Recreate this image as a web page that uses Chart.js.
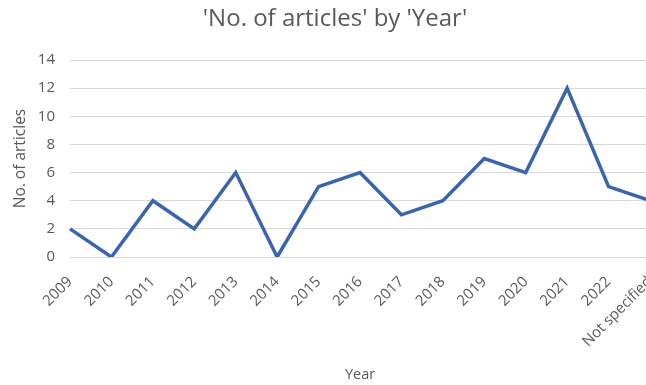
<!DOCTYPE html>
<html>
<head>
<meta charset="utf-8">
<script src="https://cdn.jsdelivr.net/npm/chart.js@4"></script>
<style>
  html, body { margin: 0; padding: 0; background: #fff; width: 646px; height: 385px; overflow: hidden; }
  #wrap { position: relative; width: 650px; height: 385px; }
</style>
</head>
<body>
<div id="wrap"><canvas id="c" width="650" height="385"></canvas></div>
<script>
const chartTitle = "'No. of articles' by 'Year'";
const xAxisTitle = "Year";
const yAxisTitle = "No. of articles";
const categories = ["2009","2010","2011","2012","2013","2014","2015","2016","2017","2018","2019","2020","2021","2022","Not specified"];
const articleCounts = [2, 0, 4, 2, 6, 0, 5, 6, 3, 4, 7, 6, 12, 5, 4];
const yTicks = [0, 2, 4, 6, 8, 10, 12, 14];

const textColor = '#595959';
const fontFamily = "'Open Sans', 'Noto Sans', sans-serif";

const titlePlugin = {
  id: 'customTitle',
  afterDraw(chart) {
    const ctx = chart.ctx;
    ctx.save();
    ctx.fillStyle = textColor;
    ctx.font = "24px " + fontFamily;
    ctx.textAlign = 'center';
    ctx.textBaseline = 'middle';
    ctx.fillText(chartTitle, 335, 19);
    ctx.restore();
  }
};

new Chart(document.getElementById('c'), {
  type: 'line',
  data: {
    labels: categories,
    datasets: [{
      data: articleCounts,
      borderColor: '#3A64AE',
      borderWidth: 3.5,
      pointRadius: 0,
      tension: 0,
      fill: false
    }]
  },
  options: {
    responsive: false,
    animation: false,
    devicePixelRatio: 1,
    layout: { padding: { top: 60, left: 0, right: 0, bottom: 0 } },
    plugins: { legend: { display: false }, tooltip: { enabled: false }, title: { display: false } },
    scales: {
      x: {
        offset: false,
        grid: { display: false, drawTicks: false },
        border: { display: false },
        ticks: {
          color: textColor, font: { family: fontFamily, size: 15 },
          maxRotation: 45, minRotation: 45, autoSkip: false, padding: 16
        },
        title: { display: true, text: xAxisTitle, color: textColor, font: { family: fontFamily, size: 14.5 }, padding: { top: 0, bottom: 1 } },
        afterFit(scale) { scale.height = 128; scale.paddingLeft = 0; scale.paddingRight = 0; }
      },
      y: {
        min: 0, max: 14,
        afterBuildTicks(scale) { scale.ticks = yTicks.map(v => ({ value: v })); },
        grid: { color: '#D9D9D9', lineWidth: 1, drawTicks: false },
        border: { display: false },
        ticks: { color: textColor, font: { family: fontFamily, size: 15 }, padding: 15 },
        title: { display: true, text: yAxisTitle, color: textColor, font: { family: fontFamily, size: 15.5 }, padding: { top: 11, bottom: 0 } },
        afterFit(scale) { scale.width = 70; scale.paddingTop = 0; scale.paddingBottom = 0; }
      }
    }
  },
  plugins: [titlePlugin]
});
</script>
</body>
</html>
